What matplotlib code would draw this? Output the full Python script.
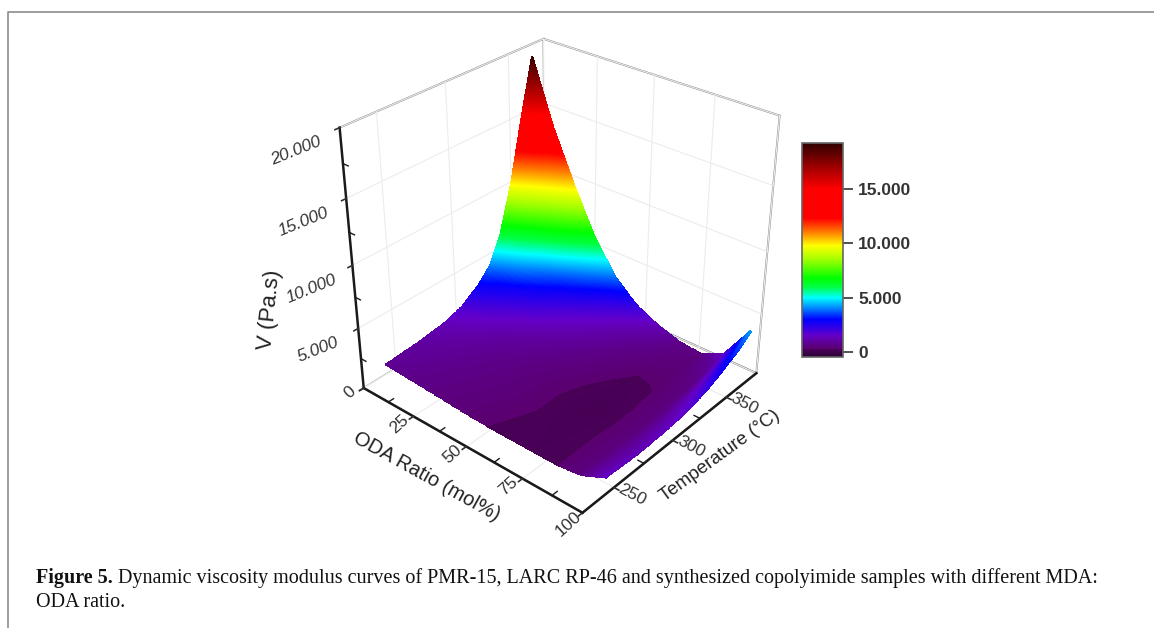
import numpy as np
import matplotlib
matplotlib.use("Agg")
from matplotlib import pyplot as plt
from matplotlib.cm import ScalarMappable
from matplotlib.colors import LinearSegmentedColormap, Normalize
from matplotlib.lines import Line2D
from matplotlib.transforms import ScaledTranslation

plt.rcParams["font.family"] = ["Liberation Sans", "DejaVu Sans"]

# values
oda = [0, 10, 20, 30, 40, 50, 60, 70, 80, 90, 100]
temp = [243, 270, 290, 305, 320, 330, 340, 350, 360, 370]
v_243 = [800, 700, 600, 480, 360, 290, 260, 250, 270, 520, 1400]
v_270 = [1000, 850, 710, 580, 460, 350, 260, 220, 280, 480, 1250]
v_290 = [1300, 1050, 830, 650, 500, 360, 250, 190, 270, 460, 1350]
v_305 = [1800, 1400, 1050, 800, 600, 420, 280, 190, 270, 480, 1500]
v_320 = [2850, 2100, 1450, 1100, 800, 550, 350, 230, 290, 520, 1800]
v_330 = [3900, 2750, 2000, 1400, 1000, 680, 430, 280, 310, 560, 2100]
v_340 = [6100, 4100, 2700, 1800, 1250, 850, 540, 350, 340, 640, 2500]
v_350 = [9700, 6300, 3900, 2500, 1650, 1080, 700, 450, 380, 780, 3000]
v_360 = [14500, 9800, 6500, 3900, 2300, 1450, 950, 600, 420, 1000, 3500]
v_370 = [19000, 14000, 10000, 6400, 3800, 2200, 1300, 700, 500, 1400, 4200]

cbar_stops = [-460, 0, 290, 310, 1000, 1500, 2500, 3000, 4000, 5000, 6000, 6800, 8500, 9800, 11000, 12300, 15000, 17000, 19240]
cbar_colors = ["#2a0030", "#40004f", "#4a0058", "#5a0070", "#5f00a0", "#6400c8", "#2000f0", "#0000ff", "#0080ff", "#00ffff",
               "#00ff40", "#00ff00", "#a0ff00", "#ffff00", "#ff8000", "#ff0000", "#ff0000", "#a00000", "#300000"]

odaticks = [0, 25, 50, 75, 100]
odaminor = [12.5, 37.5, 62.5, 87.5]
tempticks = [250, 300, 350]
tempminor = [275, 325]
vticks = [0, 5000, 10000, 15000, 20000]
vminor = [2500, 7500, 12500, 17500]
vlabels = ["", "5.000", "10.000", "15.000", "20.000"]
cbarticks = [0, 5000, 10000, 15000]
cbarlabels = ["0", "5.000", "10.000", "15.000"]

W, H = 1154, 628
fig = plt.figure(figsize=(W / 100, H / 100), dpi=100)


def nudge(label, dx, dy):
    # shift a tick label by screen pixels, y pointing down
    # Axis3D resets the transform of its tick labels, so block that afterwards
    label.set_transform(label.get_transform() + ScaledTranslation(dx / 100, -dy / 100, fig.dpi_scale_trans))
    label.set_transform = lambda tr: None


# page border of the clipped figure
fig.add_artist(Line2D([8 / W, 8 / W, 1], [0, 1 - 12 / H, 1 - 12 / H], color="#8c8c8c", lw=1.2))

ax = fig.add_axes([194 / W, 1 - 546 / H, 720 / W, 560 / H], projection="3d", proj_type="persp", focal_length=0.45)
ax.view_init(elev=31, azim=-49.5)
ax.set_box_aspect((1.03, 1, 1.04), zoom=0.89)
ax.patch.set_alpha(0)

norm = Normalize(cbar_stops[0], cbar_stops[-1])
pos = [(s - cbar_stops[0]) / (cbar_stops[-1] - cbar_stops[0]) for s in cbar_stops]
cmap = LinearSegmentedColormap.from_list("origin", list(zip(pos, cbar_colors)), N=1024)

X, Y = np.meshgrid(oda, temp)
Z = np.array([v_243, v_270, v_290, v_305, v_320, v_330, v_340, v_350, v_360, v_370])
levels = np.arange(100, 19100, 50)
cs = ax.contourf(X, Y, Z, levels=levels, cmap=cmap, norm=norm, antialiased=False)
cs.set_edgecolor("face")
cs.set_linewidth(1.0)

# minor tick marks, the 3d axis has none of its own
for m in odaminor:
    ax.plot([m, m], [225, 229], [0, 0], color="#1a1a1a", lw=1)
for m in tempminor:
    ax.plot([100, 97.5], [m, m], [0, 0], color="#1a1a1a", lw=1)
for m in vminor:
    ax.plot([0, 2.5], [225, 225], [m, m], color="#1a1a1a", lw=1)

ax.set_xlim(0, 100)
ax.set_ylim(225, 380)
ax.set_zlim(0, 20000)
ax.set_xticks(odaticks)
ax.set_yticks(tempticks)
ax.set_zticks(vticks, labels=vlabels)
ax.zaxis.set_ticks_position("lower")

for a in (ax.xaxis, ax.yaxis, ax.zaxis):
    a.set_pane_color((1, 1, 1, 1))
    a.pane.set_edgecolor("#8a8a8a")
    a.pane.set_linewidth(1.4)
    a.line.set_color("#1a1a1a")
    a.line.set_linewidth(1.8)
    a._axinfo["grid"].update(color="#ececec", linewidth=0.8)
    a._axinfo["tick"].update(inward_factor=0.25, outward_factor=0.0, linewidth={True: 1.2, False: 0.8})

ax.tick_params(axis="both", labelsize=12.5, colors="#333333")
ax.tick_params(axis="x", pad=-6)
ax.tick_params(axis="y", pad=-5)
ax.tick_params(axis="z", pad=14)
for t in ax.get_xticklabels():
    t.set_rotation(42)
    nudge(t, -12, -8)
for t in ax.get_yticklabels():
    t.set_rotation(-28)
    nudge(t, 15, -12)
for t in ax.get_zticklabels():
    t.set_rotation(22)
    t.set_fontstyle("italic")
    nudge(t, 3, 5)

# axis titles sit off the axis middle here, so they go on the figure
fig.text(427 / W, 1 - 477 / H, "ODA Ratio (mol%)", rotation=-29, fontsize=14.5, color="#222222", ha="center", va="center")
fig.text(720 / W, 1 - 456 / H, "Temperature (°C)", rotation=36, fontsize=13.5, color="#222222", ha="center", va="center")
fig.text(270 / W, 1 - 310 / H, "V (Pa.s)", rotation=84, fontsize=16, color="#222222", ha="center", va="center")

# colour scale
cax = fig.add_axes([802 / W, 1 - 357 / H, 41 / W, 214 / H])
cb = fig.colorbar(ScalarMappable(norm=norm, cmap=cmap), cax=cax, ticks=cbarticks)
cb.ax.set_yticklabels(cbarlabels, fontsize=12.5, fontweight="bold", color="#333333")
cb.ax.tick_params(length=7, width=1.2, color="#333333", pad=4)
cb.outline.set_edgecolor("#666666")
cb.outline.set_linewidth(1.2)

# caption
serif = ["Liberation Serif", "DejaVu Serif"]
lead = fig.text(36 / W, 1 - 583 / H, "Figure 5.", fontsize=14.5, fontweight="bold", family=serif, va="baseline", color="#111111")
ax2 = fig.add_axes([0, 0, 1, 1], frameon=False)
ax2.set_axis_off()
ax2.annotate(" Dynamic viscosity modulus curves of PMR-15, LARC RP-46 and synthesized copolyimide samples with different MDA:",
             xy=(1, 0), xycoords=lead, va="bottom", fontsize=14.5, family=serif, color="#111111",
             annotation_clip=False)
fig.text(36 / W, 1 - 607 / H, "ODA ratio.", fontsize=14.5, family=serif, va="baseline", color="#111111")

fig.savefig("out.png", dpi=100)
